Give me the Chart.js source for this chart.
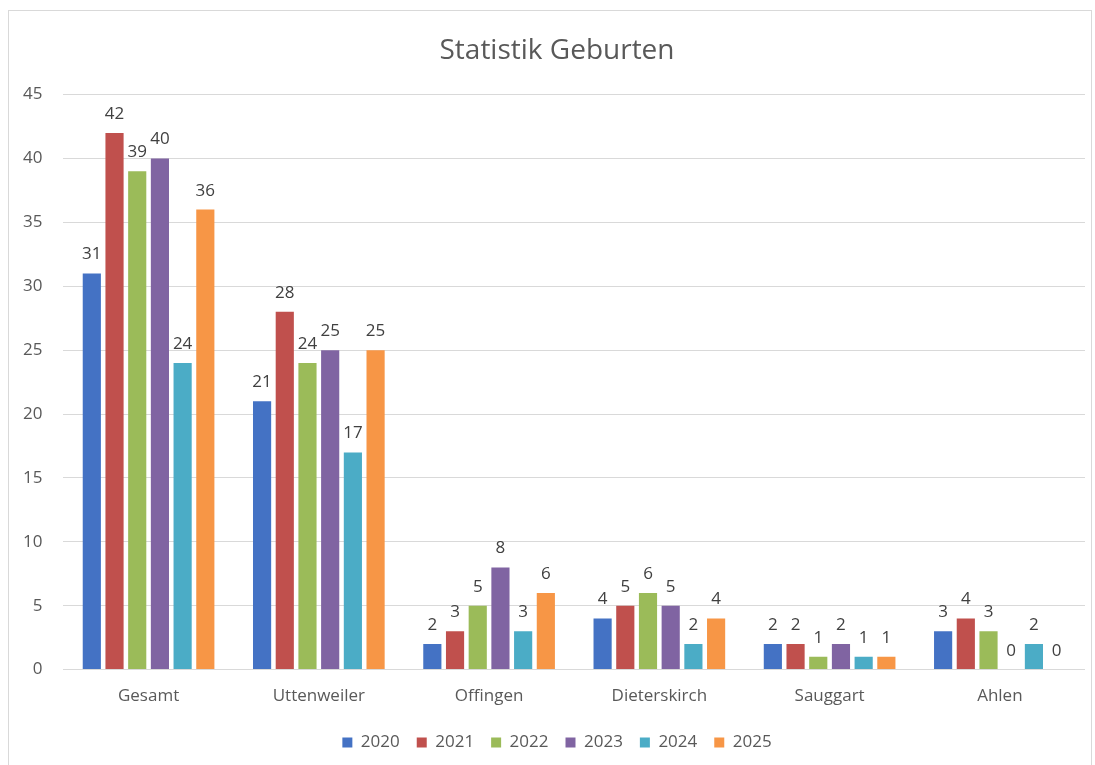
<!DOCTYPE html>
<html>
<head>
<meta charset="utf-8">
<script src="https://cdn.jsdelivr.net/npm/chart.js@4.4.0/dist/chart.umd.min.js"></script>
<style>
  html, body { margin: 0; padding: 0; background: #fff; overflow: hidden; width: 1095px; height: 765px; }
  #rahmen {
    position: absolute; left: 8px; top: 10px;
    width: 1082px; height: 760px;
    border: 1px solid #d9d9d9; border-bottom: none;
  }
  #flaeche {
    position: absolute; left: 9px; top: 11px;
    width: 1106px; height: 759px;
  }
</style>
</head>
<body>
<div id="rahmen"></div>
<div id="flaeche"><canvas id="chartGeburten"></canvas></div>
<script>
/* ============================
   Daten
============================ */
const orte = ["Gesamt", "Uttenweiler", "Offingen", "Dieterskirch", "Sauggart", "Ahlen"];
const jahre = ["2020", "2021", "2022", "2023", "2024", "2025"];
const farben = ["#4472c4", "#c0504d", "#9bbb59", "#8064a2", "#4bacc6", "#f79646"];

const werte2020 = [31, 21, 2, 4, 2, 3];
const werte2021 = [42, 28, 3, 5, 2, 4];
const werte2022 = [39, 24, 5, 6, 1, 3];
const werte2023 = [40, 25, 8, 5, 2, 0];
const werte2024 = [24, 17, 3, 2, 1, 2];
const werte2025 = [36, 25, 6, 4, 1, 0];
const alleWerte = [werte2020, werte2021, werte2022, werte2023, werte2024, werte2025];

const yTicks = [0, 5, 10, 15, 20, 25, 30, 35, 40, 45];

const schrift = "'Open Sans', sans-serif";

/* ============================
   Plugin: Werte über den Balken
============================ */
const wertLabels = {
    id: "wertLabels",
    afterDatasetsDraw(chart) {
        const { ctx } = chart;
        ctx.save();
        ctx.font = "17px " + schrift;
        ctx.fillStyle = "#404040";
        ctx.textAlign = "center";
        ctx.textBaseline = "alphabetic";
        chart.data.datasets.forEach((ds, i) => {
            const meta = chart.getDatasetMeta(i);
            meta.data.forEach((bar, j) => {
                ctx.fillText(String(ds.data[j]), bar.x, bar.y - 14);
            });
        });
        ctx.restore();
    }
};

/* ============================
   Diagramm
============================ */
const ctx = document.getElementById("chartGeburten").getContext("2d");
new Chart(ctx, {
    type: "bar",
    data: {
        labels: orte,
        datasets: jahre.map((j, i) => ({
            label: j,
            data: alleWerte[i],
            backgroundColor: farben[i],
            barPercentage: 0.8,
            categoryPercentage: 0.8
        }))
    },
    options: {
        responsive: true,
        maintainAspectRatio: false,
        animation: false,
        layout: { padding: { top: 18, left: -7, right: 3, bottom: 9 } },
        plugins: {
            title: {
                display: true,
                text: "Statistik Geburten",
                color: "#595959",
                font: { family: schrift, size: 28, weight: "normal" },
                padding: { top: 5, bottom: 27 }
            },
            legend: {
                position: "bottom",
                labels: {
                    color: "#595959",
                    font: { family: schrift, size: 17 },
                    boxWidth: 10,
                    boxHeight: 10,
                    padding: 17
                }
            },
            tooltip: { enabled: false }
        },
        scales: {
            x: {
                grid: { display: false },
                border: { display: false },
                ticks: { color: "#595959", font: { family: schrift, size: 17 }, padding: 8 },
                afterFit: (s) => { s.height += 3; }
            },
            y: {
                min: 0,
                max: 45,
                afterBuildTicks: (axis) => { axis.ticks = yTicks.map((v) => ({ value: v })); },
                grid: { color: "#d9d9d9", lineWidth: 1, drawTicks: false },
                border: { display: false },
                ticks: { color: "#595959", font: { family: schrift, size: 17 }, padding: 21 }
            },
            // leerer Rand rechts, damit Titel und Legende wie im Original sitzen
            yRand: {
                position: "right",
                grid: { display: false },
                border: { display: false },
                ticks: { display: false },
                afterFit: (s) => { s.width = 27; }
            }
        }
    },
    plugins: [wertLabels]
});
</script>
</body>
</html>
